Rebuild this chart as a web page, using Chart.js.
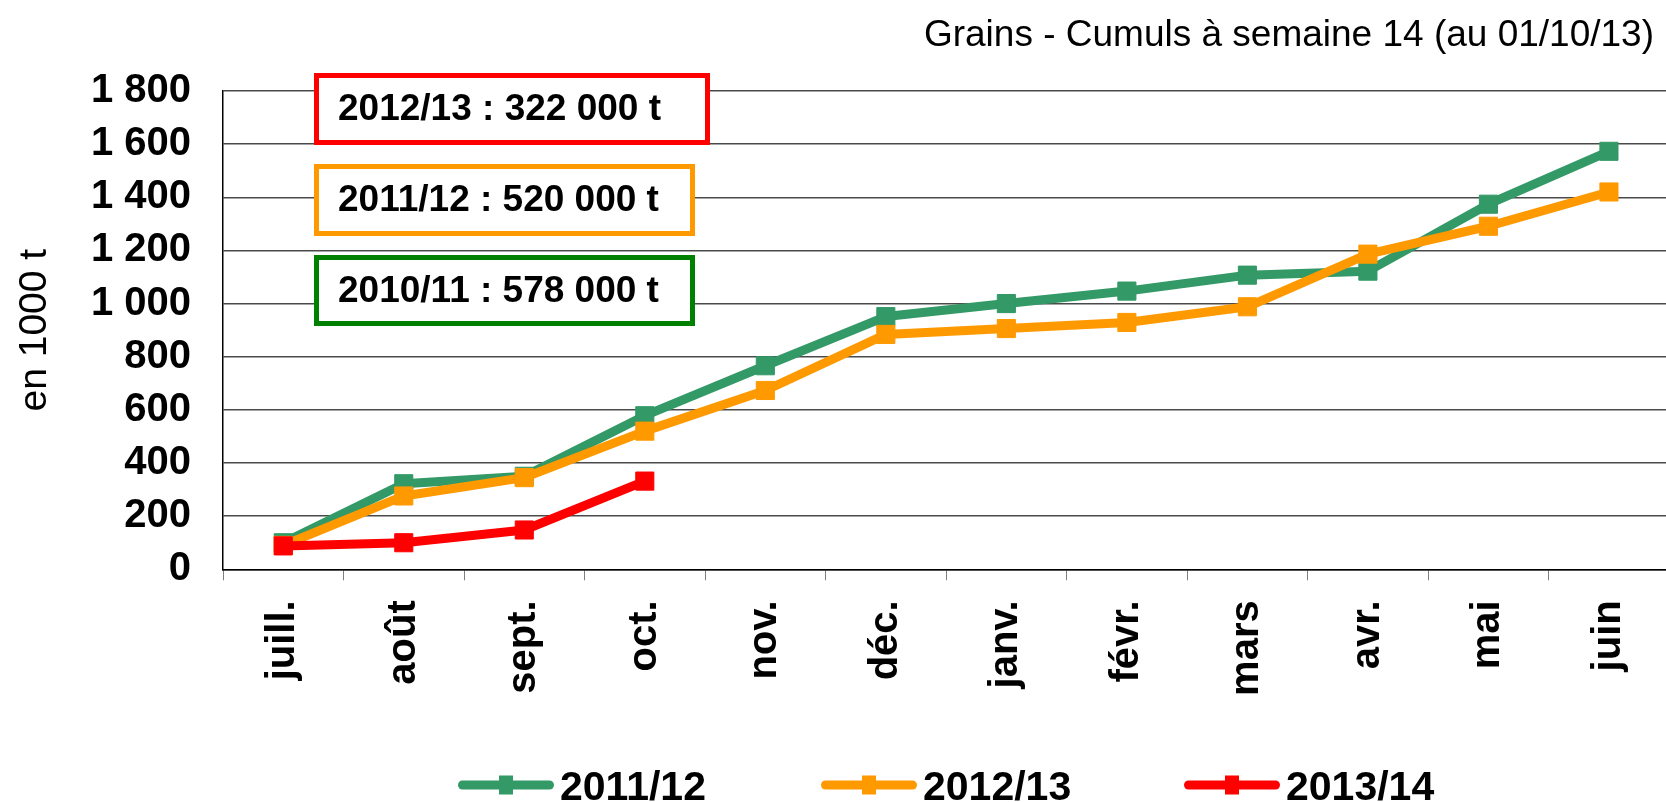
<!DOCTYPE html>
<html><head><meta charset="utf-8">
<script src="https://cdn.jsdelivr.net/npm/chart.js@4/dist/chart.umd.min.js"></script>
<style>
html,body{margin:0;padding:0;overflow:hidden;background:#fff;width:1666px;height:802px}
#wrap{position:absolute;left:0;top:0;width:1683px;height:802px}
canvas{display:block}
</style></head><body>
<div id="wrap"><canvas id="c" width="1683" height="802"></canvas></div>
<script>
// ---- data ----
const months = ['juill.','août','sept.','oct.','nov.','déc.','janv.','févr.','mars','avr.','mai','juin'];
const seriesNames = ['2011/12','2012/13','2013/14'];
const values2011_12 = [100, 322, 350, 578, 766, 951, 1000, 1047, 1107, 1122, 1374, 1573];
const values2012_13 = [90, 276, 345, 520, 673, 884, 906, 929, 988, 1186, 1291, 1420];
const values2013_14 = [88, 100, 148, 332];
const yTickValues = [0, 200, 400, 600, 800, 1000, 1200, 1400, 1600, 1800];
const yTickLabels = ['0', '200', '400', '600', '800', '1 000', '1 200', '1 400', '1 600', '1 800'];
const boxLabels = ['2012/13 : 322 000 t', '2011/12 : 520 000 t', '2010/11 : 578 000 t'];
const chartTitle = 'Grains - Cumuls à semaine 14 (au 01/10/13)';
const yAxisTitle = 'en 1000 t';

// ---- styles ----
const FONT = '"Liberation Sans", Arial, Helvetica, sans-serif';
const seriesColors = ['#339966', '#FF9900', '#FF0000'];
const boxColors = ['#FF0000', '#FF9900', '#008000'];
const boxGeom = [
  {l: 314, r: 710, t: 73, b: 145},
  {l: 314, r: 695, t: 164, b: 236},
  {l: 314, r: 695, t: 255, b: 326}
];

const decor = {
  id: 'decor',
  beforeDatasetsDraw(chart) {
    const ctx = chart.ctx;
    ctx.save();
    boxGeom.forEach((bx, i) => {
      ctx.fillStyle = '#fff';
      ctx.fillRect(bx.l, bx.t, bx.r - bx.l, bx.b - bx.t);
      ctx.lineWidth = 5;
      ctx.strokeStyle = boxColors[i];
      ctx.strokeRect(bx.l + 2.5, bx.t + 2.5, bx.r - bx.l - 5, bx.b - bx.t - 5);
      ctx.fillStyle = '#000';
      ctx.font = 'bold 37px ' + FONT;
      ctx.textAlign = 'left';
      ctx.textBaseline = 'middle';
      ctx.fillText(boxLabels[i], bx.l + 24, (bx.t + bx.b) / 2 + 1);
    });
    ctx.restore();
  },
  afterDraw(chart) {
    const ctx = chart.ctx;
    ctx.save();
    ctx.font = '37px ' + FONT;
    ctx.fillStyle = '#000';
    ctx.textAlign = 'right';
    ctx.textBaseline = 'alphabetic';
    ctx.fillText(chartTitle, 1654, 46);
    chart.data.datasets.forEach((ds, i) => {
      const x0 = 458 + i * 363, y = 785;
      ctx.strokeStyle = ds.borderColor;
      ctx.lineWidth = 9;
      ctx.lineCap = 'round';
      ctx.beginPath();
      ctx.moveTo(x0 + 4.5, y);
      ctx.lineTo(x0 + 96 - 4.5, y);
      ctx.stroke();
      ctx.fillStyle = ds.borderColor;
      ctx.fillRect(x0 + 48 - 7, y - 9.5, 14, 19);
      ctx.fillStyle = '#000';
      ctx.font = 'bold 41px ' + FONT;
      ctx.textAlign = 'left';
      ctx.textBaseline = 'alphabetic';
      ctx.fillText(ds.label, x0 + 102, 800);
    });
    ctx.restore();
  }
};

function mkDataset(label, data, color, order) {
  return {
    label, data, order,
    borderColor: color, backgroundColor: color,
    borderWidth: 9, tension: 0,
    borderJoinStyle: 'round',
    pointStyle: 'rect', pointRadius: 12.8, pointBorderWidth: 1,
    pointBackgroundColor: color, pointBorderColor: color,
    pointHoverRadius: 12.8
  };
}

new Chart(document.getElementById('c'), {
  type: 'line',
  data: {
    labels: months,
    datasets: [
      mkDataset(seriesNames[0], values2011_12, seriesColors[0], 3),
      mkDataset(seriesNames[1], values2012_13, seriesColors[1], 2),
      mkDataset(seriesNames[2], values2013_14, seriesColors[2], 1)
    ]
  },
  options: {
    responsive: false,
    devicePixelRatio: 1,
    animation: false,
    events: [],
    layout: {padding: {top: 91, bottom: 82.7, left: 0, right: 0}},
    plugins: {legend: {display: false}, title: {display: false}, tooltip: {enabled: false}},
    scales: {
      x: {
        type: 'category',
        offset: true,
        grid: {offset: true, drawOnChartArea: false, drawTicks: true, tickLength: 11, color: '#808080', lineWidth: 1},
        border: {display: true, color: '#000', width: 1.5},
        ticks: {maxRotation: 90, minRotation: 90, autoSkip: false, padding: 20, color: '#000',
                font: {family: FONT, size: 40, weight: 'bold'}},
        afterFit(s) { s.height = 150; }
      },
      y: {
        min: 0, max: 1800,
        afterBuildTicks(s) { s.ticks = yTickValues.map(v => ({value: v})); },
        ticks: {padding: 32, color: '#000', font: {family: FONT, size: 40, weight: 'bold'},
                callback: (v) => yTickLabels[yTickValues.indexOf(v)]},
        grid: {color: '#4a4a4a', lineWidth: 1.5, drawTicks: false},
        border: {display: true, color: '#000', width: 1.5},
        title: {display: true, text: yAxisTitle, color: '#000', font: {family: FONT, size: 39, weight: 'normal'},
                padding: {top: 12, bottom: 0}},
        afterFit(s) { s.width = 223; }
      }
    }
  },
  plugins: [decor]
});
</script>
</body></html>
